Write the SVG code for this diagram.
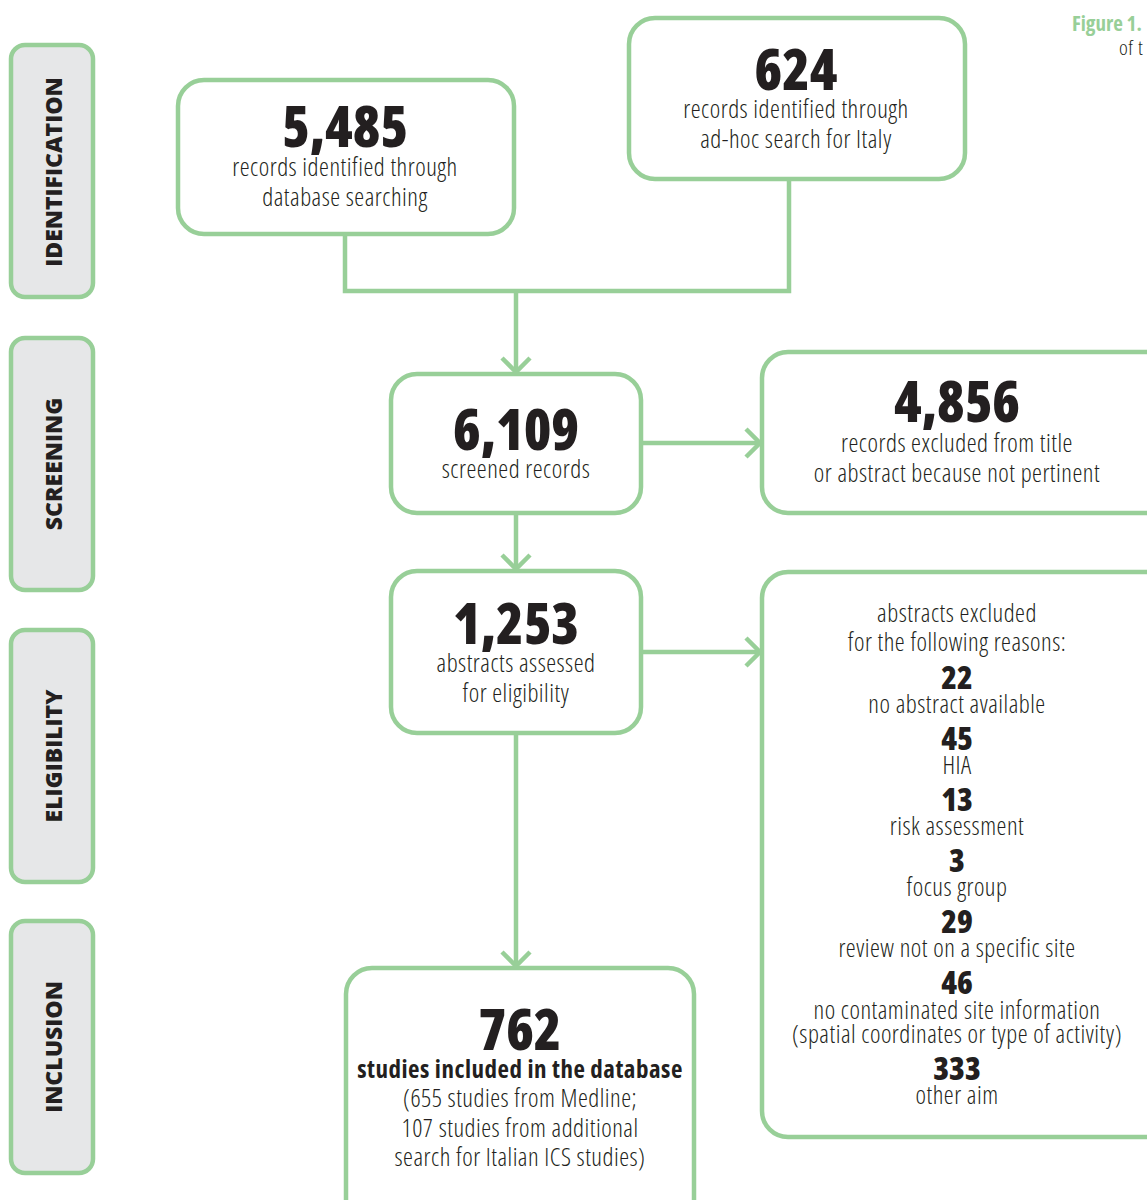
<svg xmlns="http://www.w3.org/2000/svg" width="1147" height="1200" viewBox="0 0 1147 1200">
<style>
.box{fill:#ffffff;stroke:#98cf98;stroke-width:4.5}
.side{fill:#e6e7e8;stroke:#98cf98;stroke-width:4.5}
.con{fill:none;stroke:#98cf98;stroke-width:4.5}
text{font-family:"Open Sans","DejaVu Sans Condensed",sans-serif;fill:#231f20;text-anchor:middle;font-stretch:80%}
.num{font-weight:800;font-size:56px}
.sm{font-size:25px;font-weight:300;letter-spacing:0.5px}
.n2{font-weight:800;font-size:32px}
.lab{font-family:"Open Sans","DejaVu Sans",sans-serif;font-weight:800;font-size:23px;font-stretch:100%}
.bold{font-weight:700;letter-spacing:0.5px}
</style>
<defs>
<marker id="arr" markerUnits="userSpaceOnUse" markerWidth="40" markerHeight="40" refX="20" refY="20" orient="auto" viewBox="0 0 40 40">
<path d="M6,6 L20,20 L6,34" fill="none" stroke="#98cf98" stroke-width="4.5"/>
</marker>
</defs>

<g id="side-identification">
<rect class="side" x="11" y="45" width="82" height="252" rx="14"/>
<text class="lab" transform="translate(62,172) rotate(-90)">IDENTIFICATION</text>
</g>
<g id="side-screening">
<rect class="side" x="11" y="338" width="82" height="252" rx="14"/>
<text class="lab" transform="translate(62,464) rotate(-90)">SCREENING</text>
</g>
<g id="side-eligibility">
<rect class="side" x="11" y="630" width="82" height="252" rx="14"/>
<text class="lab" transform="translate(62,756) rotate(-90)">ELIGIBILITY</text>
</g>
<g id="side-inclusion">
<rect class="side" x="11" y="921" width="82" height="252" rx="14"/>
<text class="lab" transform="translate(62,1047) rotate(-90)">INCLUSION</text>
</g>

<g id="caption">
<text x="1072" y="31" style="text-anchor:start;font-weight:bold;font-size:21px;fill:#98cf98">Figure 1.</text>
<text x="1119" y="55" class="sm" style="text-anchor:start;font-size:21px">of t</text>
</g>

<g id="connectors">
<polyline class="con" points="345,234 345,291 789,291 789,179"/>
<line class="con" x1="516" y1="291" x2="516" y2="372" marker-end="url(#arr)"/>
<line class="con" x1="641" y1="443" x2="760" y2="443" marker-end="url(#arr)"/>
<line class="con" x1="516" y1="513" x2="516" y2="569" marker-end="url(#arr)"/>
<line class="con" x1="641" y1="652" x2="760" y2="652" marker-end="url(#arr)"/>
<line class="con" x1="516" y1="733" x2="516" y2="966" marker-end="url(#arr)"/>
</g>

<g id="node-5485">
<rect class="box" x="178" y="80" width="336" height="154" rx="26"/>
<text class="num" x="345" y="147">5,485</text>
<text class="sm" x="345" y="176">records identified through</text>
<text class="sm" x="345" y="206">database searching</text>
</g>
<g id="node-624">
<rect class="box" x="629" y="18" width="336" height="161" rx="26"/>
<text class="num" x="796" y="90">624</text>
<text class="sm" x="796" y="118">records identified through</text>
<text class="sm" x="796" y="148">ad-hoc search for Italy</text>
</g>
<g id="node-6109">
<rect class="box" x="391" y="374" width="250" height="139" rx="26"/>
<text class="num" x="516" y="450">6,109</text>
<text class="sm" x="516" y="478">screened records</text>
</g>
<g id="node-4856">
<rect class="box" x="762" y="352" width="420" height="161" rx="26"/>
<text class="num" x="957" y="422">4,856</text>
<text class="sm" x="957" y="452">records excluded from title</text>
<text class="sm" x="957" y="482">or abstract because not pertinent</text>
</g>
<g id="node-1253">
<rect class="box" x="391" y="571" width="250" height="162" rx="26"/>
<text class="num" x="516" y="644">1,253</text>
<text class="sm" x="516" y="672">abstracts assessed</text>
<text class="sm" x="516" y="702">for eligibility</text>
</g>
<g id="node-excluded">
<rect class="box" x="762" y="572" width="420" height="565" rx="26"/>
<text class="sm" x="957" y="622">abstracts excluded</text>
<text class="sm" x="957" y="651">for the following reasons:</text>
<text class="n2" x="957" y="689">22</text>
<text class="sm" x="957" y="713">no abstract available</text>
<text class="n2" x="957" y="750">45</text>
<text class="sm" x="957" y="774">HIA</text>
<text class="n2" x="957" y="811">13</text>
<text class="sm" x="957" y="835">risk assessment</text>
<text class="n2" x="957" y="872">3</text>
<text class="sm" x="957" y="896">focus group</text>
<text class="n2" x="957" y="933">29</text>
<text class="sm" x="957" y="957">review not on a specific site</text>
<text class="n2" x="957" y="994">46</text>
<text class="sm" x="957" y="1019">no contaminated site information</text>
<text class="sm" x="957" y="1043">(spatial coordinates or type of activity)</text>
<text class="n2" x="957" y="1080">333</text>
<text class="sm" x="957" y="1104">other aim</text>
</g>
<g id="node-762">
<rect class="box" x="346" y="968" width="348" height="260" rx="26"/>
<text class="num" x="520" y="1050">762</text>
<text class="sm bold" x="520" y="1078">studies included in the database</text>
<text class="sm" x="520" y="1107">(655 studies from Medline;</text>
<text class="sm" x="520" y="1137">107 studies from additional</text>
<text class="sm" x="520" y="1166">search for Italian ICS studies)</text>
</g>
</svg>
